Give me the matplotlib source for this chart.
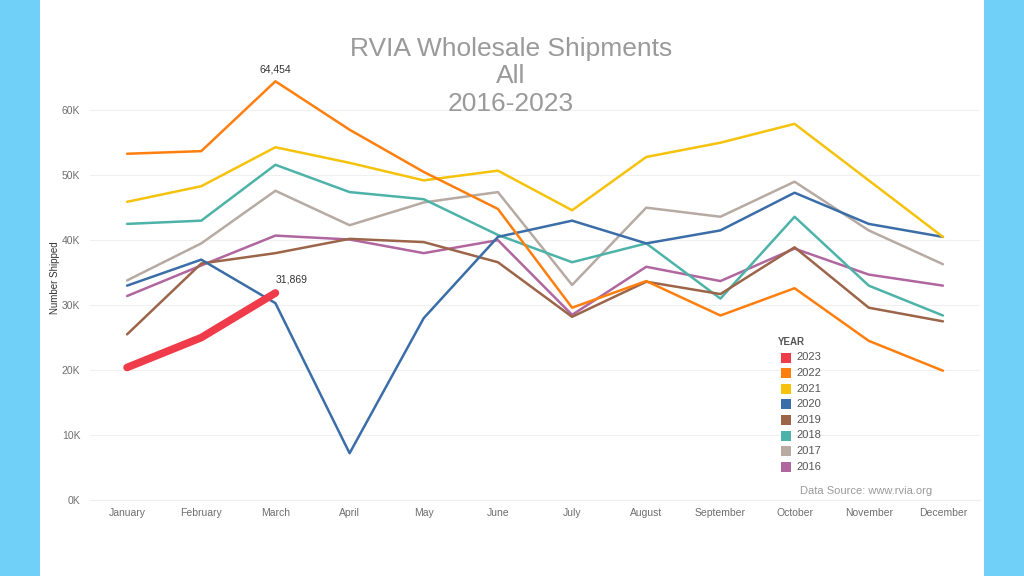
import matplotlib
matplotlib.use("Agg")
import matplotlib.pyplot as plt
from matplotlib.patches import Rectangle
from matplotlib.ticker import FuncFormatter, MultipleLocator

months = ["January", "February", "March", "April", "May", "June", "July",
          "August", "September", "October", "November", "December"]

years = ["2023", "2022", "2021", "2020", "2019", "2018", "2017", "2016"]

s2023 = [20400, 25000, 31869]
s2022 = [53300, 53700, 64454, 57000, 50500, 44800, 29600, 33700, 28400, 32600, 24500, 19900]
s2021 = [45900, 48300, 54300, 51900, 49200, 50700, 44600, 52800, 55000, 57900, 49200, 40500]
s2020 = [33000, 37000, 30300, 7200, 28000, 40500, 43000, 39500, 41500, 47300, 42500, 40500]
s2019 = [25500, 36400, 38000, 40200, 39700, 36600, 28200, 33600, 31700, 38900, 29600, 27500]
s2018 = [42500, 43000, 51600, 47400, 46300, 40800, 36600, 39500, 31000, 43600, 33000, 28400]
s2017 = [33800, 39500, 47600, 42300, 45800, 47400, 33100, 45000, 43600, 49000, 41500, 36300]
s2016 = [31400, 36100, 40700, 40100, 38000, 40000, 28500, 35900, 33700, 38700, 34700, 33000]

series = [s2023, s2022, s2021, s2020, s2019, s2018, s2017, s2016]
colors = ["#f03c4a", "#ff7f0e", "#f5c20c", "#3b6ea8", "#9c6549",
          "#4db3a8", "#b7aaa3", "#b0669e"]

plt.rcParams['font.family'] = ['Liberation Sans', 'DejaVu Sans']

fig = plt.figure(figsize=(10.24, 5.76), dpi=100)
fig.patch.set_facecolor("white")
fig.add_artist(Rectangle((0, 0), 40/1024, 1, transform=fig.transFigure,
                         facecolor="#70d0f8", edgecolor="none", zorder=0))
fig.add_artist(Rectangle((984/1024, 0), 40/1024, 1, transform=fig.transFigure,
                         facecolor="#70d0f8", edgecolor="none", zorder=0))

W, H = 1024, 576
left, right, bottom, top = 90, 980, 500, 55
ax = fig.add_axes([left/W, 1 - bottom/H, (right-left)/W, (bottom-top)/H])
ax.set_facecolor("none")

x = list(range(12))
# draw older years first so 2023 stays on top
for name, vals, c in reversed(list(zip(years, series, colors))):
    lw = 5.5 if name == "2023" else 1.8
    ax.plot(x[:len(vals)], vals, color=c, lw=lw, solid_capstyle="round",
            solid_joinstyle="round", zorder=5 if name == "2023" else 3)

ax.set_xlim(-0.5, 11.5)
ax.set_ylim(0, 68500)
ax.yaxis.set_major_locator(MultipleLocator(10000))
ax.yaxis.set_major_formatter(FuncFormatter(lambda v, p: f"{int(v/1000)}K"))
ax.set_xticks(x)
ax.set_xticklabels(months)
ax.tick_params(axis="both", length=0, labelsize=7.5, labelcolor="#6e6e6e")
ax.tick_params(axis="x", pad=6)
ax.tick_params(axis="y", pad=7)
for sp in ["top", "right", "left"]:
    ax.spines[sp].set_visible(False)
ax.spines["bottom"].set_color("#eeeeee")
ax.grid(axis="y", color="#f0f0f0", lw=0.8)
ax.set_axisbelow(True)
ax.set_ylabel("Number Shipped", fontsize=7, color="#333333", labelpad=1)

# annotations
imax = s2022.index(max(s2022))
ax.annotate(f"{max(s2022):,}", (imax, max(s2022)), xytext=(0, 5),
            textcoords="offset points", ha="center", va="bottom",
            fontsize=7.5, color="#333333")
ax.annotate(f"{s2023[-1]:,}", (len(s2023)-1, s2023[-1]), xytext=(0, 6),
            textcoords="offset points", ha="left", va="bottom",
            fontsize=7.5, color="#333333")

# title
fig.text(511/W, 1 - 37/H, "RVIA Wholesale Shipments\nAll\n2016-2023",
         ha="center", va="top", fontsize=19, color="#9a9a9a", linespacing=1.18)

# legend
lx, ly = 778, 342
fig.text(lx/W, 1 - ly/H, "YEAR", fontsize=7, fontweight="bold",
         color="#555555", va="center", ha="left")
for i, (name, c) in enumerate(zip(years, colors)):
    yy = 357.5 + i * 15.6
    fig.add_artist(Rectangle(((lx+3)/W, 1 - (yy+5)/H), 10/W, 10/H,
                             transform=fig.transFigure, facecolor=c,
                             edgecolor="none"))
    fig.text((lx+18)/W, 1 - yy/H, name, fontsize=8, color="#555555",
             va="center", ha="left")

fig.text(932/W, 1 - 491/H, "Data Source: www.rvia.org", fontsize=8,
         color="#9a9a9a", ha="right", va="center")

fig.savefig("out.png", dpi=100)
